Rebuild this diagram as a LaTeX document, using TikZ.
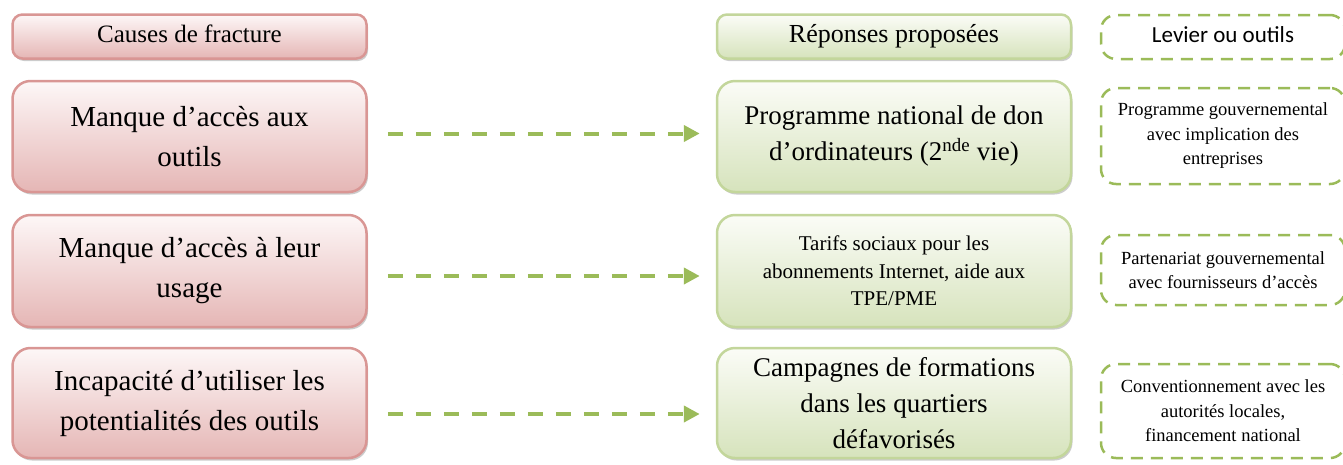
\documentclass[tikz,border=0pt]{standalone}
\usepackage{fontspec}
\setmainfont{Liberation Serif}
\newfontfamily\calibri{Carlito}
\usetikzlibrary{arrows.meta,shadows}
\definecolor{causeline}{RGB}{217,150,148}
\definecolor{causetop}{RGB}{253,247,247}
\definecolor{causebot}{RGB}{229,182,181}
\definecolor{replyline}{RGB}{195,214,155}
\definecolor{replytop}{RGB}{251,252,247}
\definecolor{replybot}{RGB}{214,227,188}
\definecolor{leverline}{RGB}{155,187,89}

\begin{document}
\begin{tikzpicture}[x=1pt,y=1pt]
\tikzstyle{every node}+=[inner sep=0pt]
\tikzstyle{boxshadow}=[drop shadow={shadow xshift=1.5pt,shadow yshift=-2.5pt,fill=black!40}]
\tikzstyle{causebase}=[draw=causeline, line width=2.5pt, rounded corners=18pt, top color=causetop, bottom color=causebot, boxshadow, minimum width=354pt]
\tikzstyle{cause}=[causebase, align=center, font=\fontsize{29}{40}\selectfont]
\tikzstyle{causehead}=[causebase, rounded corners=10pt, minimum height=44pt, text height=17pt, text depth=5pt, font=\fontsize{25}{30}\selectfont]
\tikzstyle{replybase}=[draw=replyline, line width=2.5pt, rounded corners=18pt, top color=replytop, bottom color=replybot, boxshadow, minimum width=354pt]
\tikzstyle{reply}=[replybase, align=center, font=\fontsize{27}{36}\selectfont]
\tikzstyle{replyhead}=[replybase, rounded corners=10pt, minimum height=44pt, text height=17.5pt, text depth=5.5pt, font=\fontsize{26}{30}\selectfont]
\tikzstyle{leverbase}=[draw=leverline, line width=2.5pt, dash pattern=on 12pt off 8pt, rounded corners=15pt, fill=white, minimum width=244pt]
\tikzstyle{lever}=[leverbase, align=center, font=\fontsize{18.5}{24.5}\selectfont]
\tikzstyle{leverhead}=[leverbase, minimum height=44pt, text height=15.5pt, text depth=5pt, font=\calibri\fontsize{23}{28}\selectfont]
\tikzstyle{link}=[draw=leverline, line width=4pt, dash pattern=on 15pt off 13pt, -{Triangle[length=16pt,width=16pt]}]
\useasboundingbox (0,0) rectangle (1343,-464);
\node[causehead] (ch) at (189.5,-36.5) {Causes de fracture};
\node[cause, minimum height=111pt] (c1) at (189.5,-136.5) {Manque d’accès aux\\outils};
\node[cause, minimum height=112pt] (c2) at (189.5,-271) {Manque d’accès à leur\\usage};
\node[cause, minimum height=110pt] (c3) at (189.5,-403) {Incapacité d’utiliser les\\potentialités des outils};
\node[replyhead] (rh) at (894,-36.5) {Réponses proposées};
\node[reply, minimum height=111pt] (r1) at (894,-136.5) {Programme national de don\\d’ordinateurs (2\textsuperscript{nde} vie)};
\node[reply, minimum height=112pt, font=\fontsize{21}{27.5}\selectfont] (r2) at (894,-271) {Tarifs sociaux pour les\\abonnements Internet, aide aux\\TPE/PME};
\node[reply, minimum height=110pt] (r3) at (894,-403) {Campagnes de formations\\dans les quartiers\\défavorisés};
\node[leverhead] (lh) at (1223,-37) {Levier ou outils};
\node[lever, minimum height=96pt] (l1) at (1223,-136) {Programme gouvernemental\\avec implication des\\entreprises};
\node[lever, minimum height=70pt] (l2) at (1223,-270) {Partenariat gouvernemental\\avec fournisseurs d’accès};
\node[lever, minimum height=94pt] (l3) at (1223,-411) {Conventionnement avec les\\autorités locales,\\financement national};
\draw[link] ([xshift=20pt,yshift=3pt]c1.east) -- ([xshift=-16pt,yshift=3pt]r1.west);
\draw[link] ([xshift=20pt,yshift=-5pt]c2.east) -- ([xshift=-16pt,yshift=-5pt]r2.west);
\draw[link] ([xshift=20pt,yshift=-11pt]c3.east) -- ([xshift=-16pt,yshift=-11pt]r3.west);
\end{tikzpicture}
\end{document}
